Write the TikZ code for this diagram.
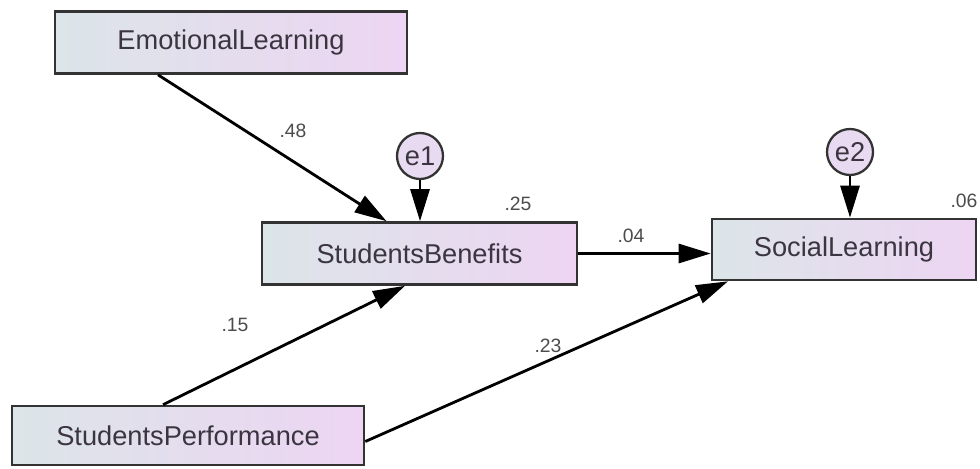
\documentclass[tikz,border=0pt]{standalone}
\usepackage{fontspec}
\setmainfont{Liberation Sans}
\usetikzlibrary{arrows.meta}
\definecolor{boxleft}{HTML}{DCE5E8}
\definecolor{boxright}{HTML}{EDD5F3}
\definecolor{txt}{HTML}{3A3540}
\tikzset{
	var/.style={draw=black!80, line width=1.5pt, left color=boxleft, right color=boxright, minimum height=1.24cm, inner sep=0pt, text=txt, font=\fontsize{15.5}{18}\selectfont},
	err/.style={circle, draw=black!80, line width=1.3pt, fill=boxright!70!boxleft, minimum size=0.92cm, inner sep=0pt, text=txt, font=\fontsize{15.5}{18}\selectfont},
	path/.style={line width=1.6pt, -{Triangle[length=0.64cm, width=0.38cm]}},
	coef/.style={text=black!70, font=\fontsize{11}{13}\selectfont}
}

\begin{document}
\begin{tikzpicture}[x=0.02cm, y=-0.02cm]
			\useasboundingbox (0,0) rectangle (980,468);
			\node[var, minimum width=7.04cm] (EL) at (231,42.5) {EmotionalLearning};
			\node[var, minimum width=6.3cm] (SB) at (419.5,253.5) {StudentsBenefits};
			\node[var, minimum width=5.28cm, minimum height=1.22cm] (SL) at (844,249.5) {SocialLearning};
			\node[var, minimum width=7.04cm, minimum height=1.18cm] (SP) at (188,435.5) {StudentsPerformance};
			\node[err] (e1) at (420,156) {e1};
			\node[err] (e2) at (850,152) {e2};

			\draw[path] ([xshift=-1.46cm]EL.south) -- ([xshift=-0.66cm]SB.north);
			\draw[path] (e1) -- (e1 |- SB.north);
			\draw[path] ([xshift=-0.5cm]SP.north) -- ([xshift=-0.29cm]SB.south);
			\draw[path] (SB.east) -- (SB.east -| SL.west);
			\draw[path] ([yshift=-0.12cm]SP.east) -- ([xshift=-2.32cm]SL.south);
			\draw[path] (e2) -- (e2 |- SL.north);

			\node[coef] (c48) at (293,131) {.48};
			\node[coef] (c25) at (518,204) {.25};
			\node[coef] (c04) at (631,236) {.04};
			\node[coef] (c06) at (964,201) {.06};
			\node[coef] (c15) at (235,325) {.15};
			\node[coef] (c23) at (548,346) {.23};
		\end{tikzpicture}
\end{document}
